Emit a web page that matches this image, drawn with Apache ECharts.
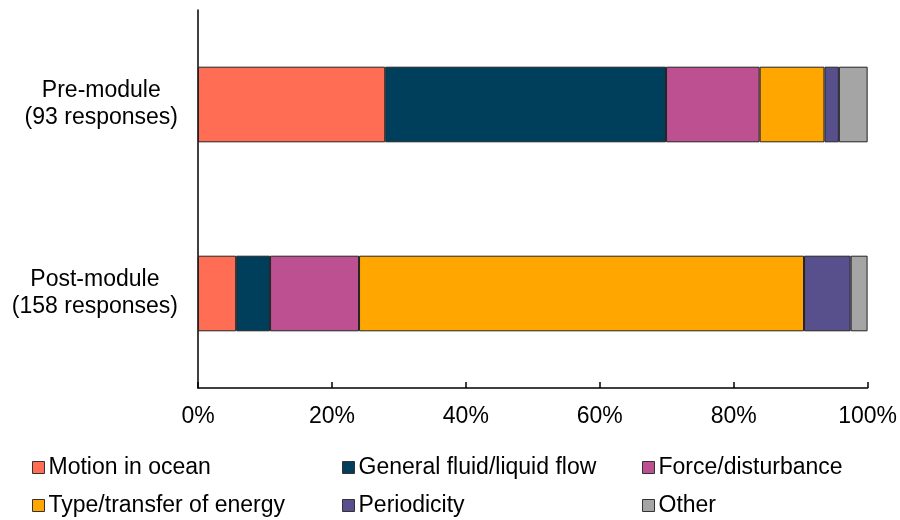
<!DOCTYPE html>
<html><head><meta charset="utf-8">
<script src="https://cdn.jsdelivr.net/npm/echarts@6/dist/echarts.min.js"></script>
<style>html,body{margin:0;padding:0;background:#fff}#c{width:900px;height:520px}</style>
</head><body><div id="c"></div>
<script>
var categories = ['Pre-module', 'Post-module'];
var responses = [93, 158];
var seriesNames = ['Motion in ocean', 'General fluid/liquid flow', 'Force/disturbance', 'Type/transfer of energy', 'Periodicity', 'Other'];
// percentages of responses
var motionInOcean = [27.96, 5.70];
var generalFluidFlow = [41.94, 5.06];
var forceDisturbance = [13.98, 13.29];
var typeTransferEnergy = [9.68, 66.46];
var periodicity = [2.15, 6.96];
var other = [4.30, 2.53];
var xTicks = [0, 20, 40, 60, 80, 100];

var colors = ['#FF6E54', '#003F5C', '#BC5090', '#FFA600', '#58508D', '#A5A5A5'];
var values = [motionInOcean, generalFluidFlow, forceDisturbance, typeTransferEnergy, periodicity, other];
var FONT = 'Liberation Sans';
var FS = 23;

var series = seriesNames.map(function (n, i) {
  return {
    name: n, type: 'bar', stack: 'all', barWidth: '40%',
    data: values[i],
    itemStyle: { color: colors[i], borderColor: '#222', borderWidth: 1 }
  };
});

var legendPos = [[27, 451], [337, 451], [637, 451], [27, 489], [337, 489], [637, 489]];
var legends = seriesNames.map(function (n, i) {
  return {
    data: [{ name: n, icon: 'rect', itemStyle: { borderColor: '#333', borderWidth: 1 } }],
    left: legendPos[i][0], top: legendPos[i][1],
    itemWidth: 12, itemHeight: 12, itemGap: 4,
    selectedMode: false,
    textStyle: { fontFamily: FONT, fontSize: FS, color: '#000', padding: [0, 0, 0, -1] }
  };
});

var chart = echarts.init(document.getElementById('c'), null, { renderer: 'canvas' });
chart.setOption({
  animation: false,
  backgroundColor: '#fff',
  grid: { left: 198, right: 32, top: 10, bottom: 132 },
  legend: legends,
  xAxis: {
    type: 'value', min: 0, max: 100, interval: 20,
    axisLine: { show: true, lineStyle: { color: '#000', width: 1.5 } },
    axisTick: { show: true, inside: true, length: 6, lineStyle: { color: '#000', width: 1.5 } },
    splitLine: { show: false },
    axisLabel: {
      margin: 17, fontFamily: FONT, fontSize: FS, color: '#000',
      formatter: function (v) { return xTicks.indexOf(v) >= 0 ? v + '%' : ''; }
    }
  },
  yAxis: {
    type: 'category', data: categories, inverse: true,
    axisLine: { show: true, lineStyle: { color: '#000', width: 1.5 } },
    axisTick: { show: false },
    axisLabel: {
      margin: 20, fontFamily: FONT, fontSize: FS, color: '#000', lineHeight: 27,
      formatter: function (v, idx) { return '{a|' + v + '}\n{a|(' + responses[idx] + ' responses)}'; },
      rich: { a: { align: 'center', fontFamily: FONT, fontSize: FS, color: '#000', lineHeight: 27 } }
    }
  },
  series: series
});
</script></body></html>
